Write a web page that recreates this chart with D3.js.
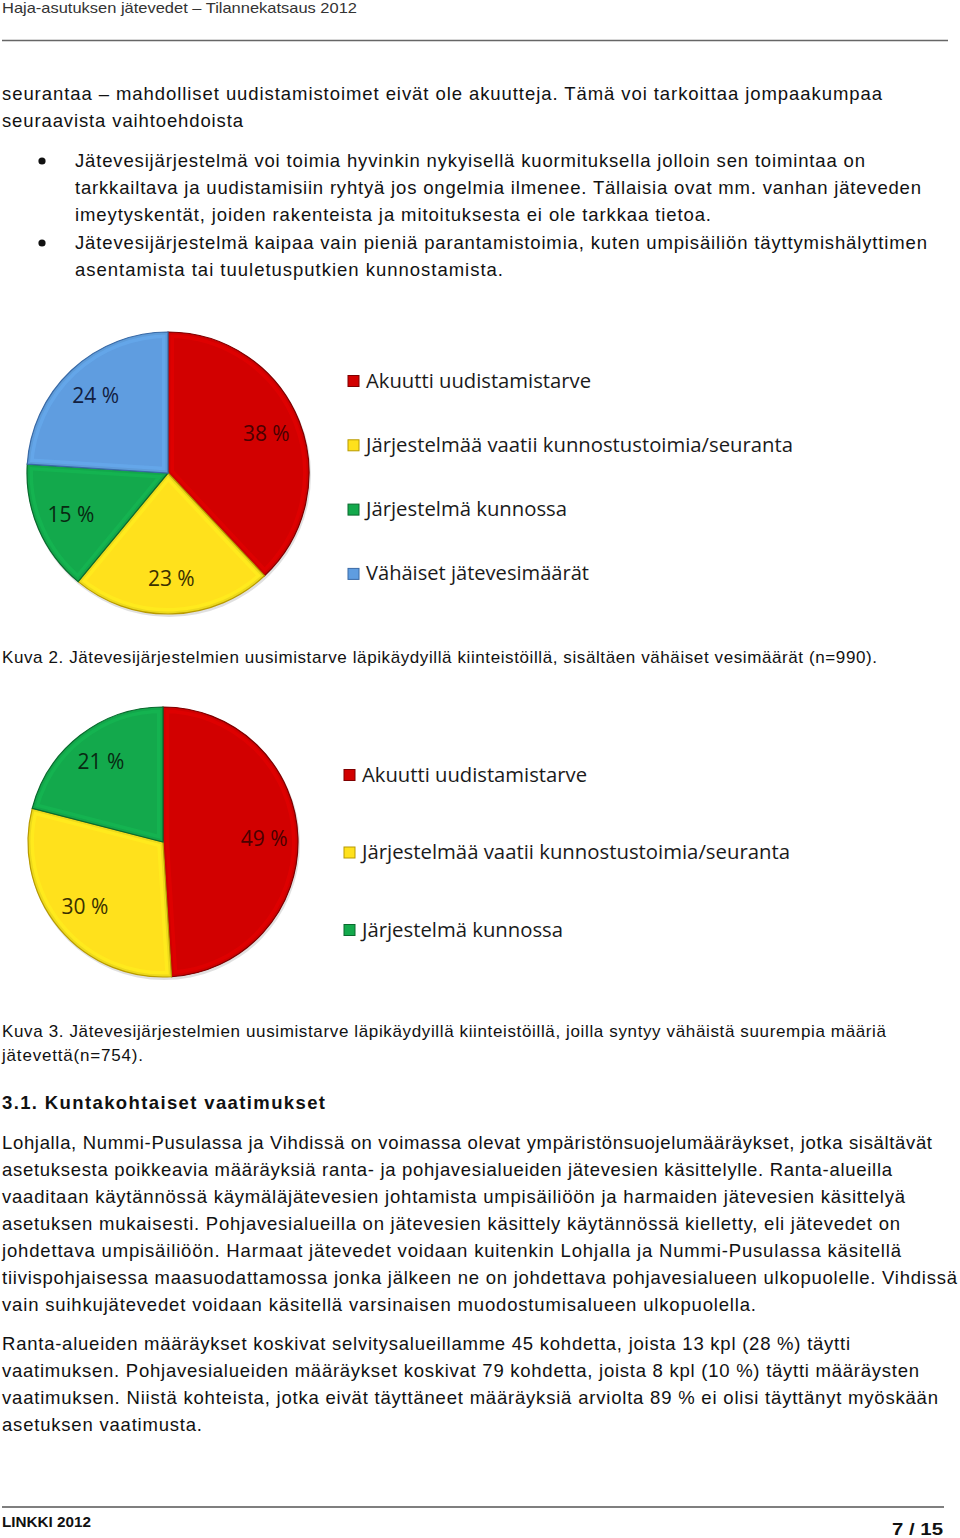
<!DOCTYPE html>
<html>
<head>
<meta charset="utf-8">
<script src="https://cdn.jsdelivr.net/npm/d3@7"></script>
<style>
body { margin: 0; background: #fff; }
svg { display: block; }
.body { font-family: "Liberation Sans", Arial, sans-serif; font-size: 18.5px; fill: #111; }
.cap { font-family: "Liberation Sans", Arial, sans-serif; font-size: 17px; fill: #111; }
.head { font-family: "Liberation Sans", Arial, sans-serif; font-size: 15px; fill: #333; }
.h2 { font-family: "Liberation Sans", Arial, sans-serif; font-size: 18.5px; font-weight: bold; fill: #111; }
.foot { font-family: "Liberation Sans Narrow", "Liberation Sans", Arial, sans-serif; font-weight: bold; fill: #111; }
.legend { font-family: "Open Sans", "Noto Sans", sans-serif; font-size: 19.5px; fill: #1a1a1a; }
.plabel { font-family: "Open Sans", "Noto Sans", sans-serif; font-size: 21px; }
</style>
</head>
<body>
<div id="page"></div>
<script>
// pie data
var categories1 = ["Akuutti uudistamistarve", "Järjestelmää vaatii kunnostustoimia/seuranta", "Järjestelmä kunnossa", "Vähäiset jätevesimäärät"];
var values1 = [38, 23, 15, 24];
var categories2 = ["Akuutti uudistamistarve", "Järjestelmää vaatii kunnostustoimia/seuranta", "Järjestelmä kunnossa"];
var values2 = [49, 30, 21];

var sliceColors = ["#d20000", "#ffe11c", "#13a94c", "#5f9de0"];
var edgeColors = ["#7e0000", "#b89a00", "#0a6a2e", "#3a6aa6"];
var labelColors = ["#4a0000", "#3a3000", "#082a12", "#122040"];

// page text, line by line
var textLines = [
    {t: "seurantaa – mahdolliset uudistamistoimet eivät ole akuutteja. Tämä voi tarkoittaa jompaakumpaa", x: 2, y: 94, w: 880, c: "body"},
    {t: "seuraavista vaihtoehdoista", x: 2, y: 121, w: 241, c: "body"},
    {t: "Jätevesijärjestelmä voi toimia hyvinkin nykyisellä kuormituksella jolloin sen toimintaa on", x: 75, y: 161, w: 790, c: "body"},
    {t: "tarkkailtava ja uudistamisiin ryhtyä jos ongelmia ilmenee. Tällaisia ovat mm. vanhan jäteveden", x: 75, y: 188, w: 846, c: "body"},
    {t: "imeytyskentät, joiden rakenteista ja mitoituksesta ei ole tarkkaa tietoa.", x: 75, y: 215, w: 636, c: "body"},
    {t: "Jätevesijärjestelmä kaipaa vain pieniä parantamistoimia, kuten umpisäiliön täyttymishälyttimen", x: 75, y: 243, w: 852, c: "body"},
    {t: "asentamista tai tuuletusputkien kunnostamista.", x: 75, y: 270, w: 428, c: "body"},
    {t: "Kuva 2. Jätevesijärjestelmien uusimistarve läpikäydyillä kiinteistöillä, sisältäen vähäiset vesimäärät (n=990).", x: 2, y: 657, w: 875, c: "cap"},
    {t: "Kuva 3. Jätevesijärjestelmien uusimistarve läpikäydyillä kiinteistöillä, joilla syntyy vähäistä suurempia määriä", x: 2, y: 1031, w: 884, c: "cap"},
    {t: "jätevettä(n=754).", x: 2, y: 1055, w: 141, c: "cap"},
    {t: "3.1. Kuntakohtaiset vaatimukset", x: 2, y: 1103, w: 323, c: "h2"},
    {t: "Lohjalla, Nummi-Pusulassa ja Vihdissä on voimassa olevat ympäristönsuojelumääräykset, jotka sisältävät", x: 2, y: 1143, w: 930, c: "body"},
    {t: "asetuksesta poikkeavia määräyksiä ranta- ja pohjavesialueiden jätevesien käsittelylle. Ranta-alueilla", x: 2, y: 1170, w: 890, c: "body"},
    {t: "vaaditaan käytännössä käymäläjätevesien johtamista umpisäiliöön ja harmaiden jätevesien käsittelyä", x: 2, y: 1197, w: 903, c: "body"},
    {t: "asetuksen mukaisesti. Pohjavesialueilla on jätevesien käsittely käytännössä kielletty, eli jätevedet on", x: 2, y: 1224, w: 898, c: "body"},
    {t: "johdettava umpisäiliöön. Harmaat jätevedet voidaan kuitenkin Lohjalla ja Nummi-Pusulassa käsitellä", x: 2, y: 1251, w: 899, c: "body"},
    {t: "tiivispohjaisessa maasuodattamossa jonka jälkeen ne on johdettava pohjavesialueen ulkopuolelle. Vihdissä", x: 2, y: 1278, w: 955, c: "body"},
    {t: "vain suihkujätevedet voidaan käsitellä varsinaisen muodostumisalueen ulkopuolella.", x: 2, y: 1305, w: 754, c: "body"},
    {t: "Ranta-alueiden määräykset koskivat selvitysalueillamme 45 kohdetta, joista 13 kpl (28 %) täytti", x: 2, y: 1344, w: 848, c: "body"},
    {t: "vaatimuksen. Pohjavesialueiden määräykset koskivat 79 kohdetta, joista 8 kpl (10 %) täytti määräysten", x: 2, y: 1371, w: 917, c: "body"},
    {t: "vaatimuksen. Niistä kohteista, jotka eivät täyttäneet määräyksiä arviolta 89 % ei olisi täyttänyt myöskään", x: 2, y: 1398, w: 936, c: "body"},
    {t: "asetuksen vaatimusta.", x: 2, y: 1425, w: 200, c: "body"}
];
var bulletRows = [161, 243];

var svg = d3.select("#page").append("svg")
    .attr("width", 960)
    .attr("height", 1538);

var defs = svg.append("defs");

// header + footer
svg.append("text").attr("class", "head")
    .attr("x", 2).attr("y", 13)
    .attr("textLength", 355).attr("lengthAdjust", "spacingAndGlyphs")
    .text("Haja-asutuksen jätevedet – Tilannekatsaus 2012");
svg.append("line").attr("x1", 2).attr("x2", 948).attr("y1", 40.5).attr("y2", 40.5)
    .attr("stroke", "#666").attr("stroke-width", 1.6);
svg.append("line").attr("x1", 2).attr("x2", 944).attr("y1", 1507).attr("y2", 1507)
    .attr("stroke", "#555").attr("stroke-width", 1.4);
svg.append("text").attr("class", "foot")
    .attr("x", 2).attr("y", 1527).style("font-size", "14px")
    .attr("textLength", 89).attr("lengthAdjust", "spacingAndGlyphs")
    .text("LINKKI 2012");
svg.append("text").attr("class", "foot")
    .attr("x", 892).attr("y", 1535).style("font-size", "17px")
    .attr("textLength", 51).attr("lengthAdjust", "spacingAndGlyphs")
    .text("7 / 15");

// body text
svg.selectAll("text.line")
    .data(textLines)
    .enter()
    .append("text")
    .attr("class", d => "line " + d.c)
    .attr("x", d => d.x)
    .attr("y", d => d.y + 6)
    .attr("textLength", d => d.w)
    .attr("lengthAdjust", "spacing")
    .text(d => d.t);

svg.selectAll("circle.bullet")
    .data(bulletRows)
    .enter()
    .append("circle")
    .attr("class", "bullet")
    .attr("cx", 42)
    .attr("cy", d => d)
    .attr("r", 3.6)
    .attr("fill", "#111");

function drawPie(id, cx, cy, r, cats, vals, legX, legY, legStep, legW) {
    var g = svg.append("g")
        .attr("transform", "translate(" + cx + "," + cy + ")");
    var pie = d3.pie().sort(null).value(d => d);
    var arcs = pie(vals);
    var arc = d3.arc().innerRadius(0).outerRadius(r);
    var labelArc = d3.arc().innerRadius(r * 0.75).outerRadius(r * 0.75);

    arcs.forEach(function (a, i) {
        defs.append("clipPath").attr("id", id + "-clip" + i)
            .append("path").attr("d", arc(a));
    });

    // soft shadow below the pie
    g.append("circle")
        .attr("cx", 1).attr("cy", 2).attr("r", r + 1)
        .attr("fill", "#000").attr("opacity", 0.12);

    var slices = g.selectAll("g.slice")
        .data(arcs)
        .enter()
        .append("g")
        .attr("class", "slice");
    slices.append("path")
        .attr("d", arc)
        .attr("fill", (d, i) => sliceColors[i]);
    // bevel: darker band then lighter band along the slice edges
    slices.append("path")
        .attr("d", arc)
        .attr("fill", "none")
        .attr("clip-path", (d, i) => "url(#" + id + "-clip" + i + ")")
        .attr("stroke", (d, i) => d3.color(sliceColors[i]).darker(0.6))
        .attr("stroke-width", 5)
        .attr("stroke-opacity", 0.5);
    slices.append("path")
        .attr("d", arc)
        .attr("fill", "none")
        .attr("clip-path", (d, i) => "url(#" + id + "-clip" + i + ")")
        .attr("stroke", (d, i) => d3.color(sliceColors[i]).brighter(0.5))
        .attr("stroke-width", 12)
        .attr("stroke-opacity", 0.3);
    slices.append("path")
        .attr("d", arc)
        .attr("fill", "none")
        .attr("stroke", (d, i) => edgeColors[i])
        .attr("stroke-width", 1.2);

    g.selectAll("text.plabel")
        .data(arcs)
        .enter()
        .append("text")
        .attr("class", "plabel")
        .attr("transform", d => "translate(" + labelArc.centroid(d) + ")")
        .attr("text-anchor", "middle")
        .attr("dy", "0.35em")
        .attr("fill", (d, i) => labelColors[i])
        .text(d => d.data + " %");

    var leg = svg.append("g")
        .attr("transform", "translate(" + legX + "," + legY + ")");
    var items = leg.selectAll("g.item")
        .data(cats)
        .enter()
        .append("g")
        .attr("class", "item")
        .attr("transform", (d, i) => "translate(0," + (i * legStep) + ")");
    items.append("rect")
        .attr("x", 0).attr("y", -5.5)
        .attr("width", 11).attr("height", 11)
        .attr("fill", (d, i) => sliceColors[i])
        .attr("stroke", (d, i) => edgeColors[i])
        .attr("stroke-width", 1);
    items.append("text")
        .attr("class", "legend")
        .attr("x", 18)
        .attr("y", 6.5)
        .attr("textLength", (d, i) => legW[i])
        .attr("lengthAdjust", "spacingAndGlyphs")
        .text(d => d);
}

drawPie("p1", 168, 473, 141, categories1, values1, 348, 381, 64.3, [225, 427, 201, 223]);
drawPie("p2", 163, 842, 135, categories2, values2, 344, 775, 77.5, [225, 428, 201]);
</script>
</body>
</html>
